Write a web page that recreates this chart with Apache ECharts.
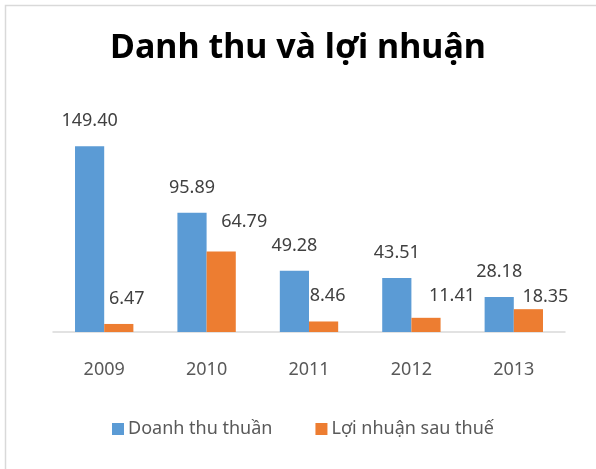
<!DOCTYPE html>
<html>
<head>
<meta charset="utf-8">
<script src="https://cdn.jsdelivr.net/npm/echarts@6/dist/echarts.min.js"></script>
<style>
html,body{margin:0;padding:0;background:#fff;}
#chart{width:596px;height:469px;}
</style>
</head>
<body>
<div id="chart"></div>
<script>
const titleText = 'Danh thu và lợi nhuận';
const years = ['2009', '2010', '2011', '2012', '2013'];
const seriesNames = ['Doanh thu thuần', 'Lợi nhuận sau thuế'];
const revenue = [149.40, 95.89, 49.28, 43.51, 28.18];
const profit = [6.47, 64.79, 8.46, 11.41, 18.35];

// label nudges (styling only) for the orange labels, as placed in the reference
const profitLabelNudge = [[8, 0], [23, -5], [4, -1], [26, 3], [17, 13]];

const FONT = '"Noto Sans", "Open Sans", sans-serif';

const chart = echarts.init(document.getElementById('chart'), null, {renderer: 'canvas'});
chart.setOption({
  animation: false,
  backgroundColor: '#ffffff',
  graphic: [{
    type: 'rect',
    shape: {x: 5.5, y: 5.5, width: 800, height: 800},
    style: {fill: 'none', stroke: '#d9d9d9', lineWidth: 1.5},
    silent: true, z: -1
  }],
  title: {
    text: titleText,
    left: 'center',
    top: 26,
    textStyle: {fontFamily: FONT, fontWeight: 'bold', fontSize: 34, color: '#000000'}
  },
  legend: {
    data: seriesNames,
    left: 107,
    top: 415,
    itemWidth: 12,
    itemHeight: 12,
    itemGap: 43,
    icon: 'rect',
    textStyle: {fontFamily: FONT, fontSize: 18, color: '#595959', padding: [0, 0, 0, -1]}
  },
  grid: {left: 53, right: 31, top: 133, bottom: 137, containLabel: false},
  xAxis: {
    type: 'category',
    data: years,
    axisLine: {lineStyle: {color: '#d9d9d9', width: 1.5}},
    axisTick: {show: false},
    axisLabel: {fontFamily: FONT, fontSize: 18, color: '#595959', margin: 29}
  },
  yAxis: {
    type: 'value',
    min: 0,
    max: 160,
    interval: 20,
    show: false,
    splitLine: {show: false}
  },
  series: [
    {
      name: seriesNames[0],
      type: 'bar',
      data: revenue,
      barGap: '0%',
      barCategoryGap: '43%',
      itemStyle: {color: '#5B9BD5'},
      label: {
        show: true, position: 'top', distance: 16,
        formatter: p => p.value.toFixed(2),
        fontFamily: FONT, fontSize: 18, color: '#404040'
      }
    },
    {
      name: seriesNames[1],
      type: 'bar',
      data: profit.map((v, i) => ({value: v, label: {offset: profitLabelNudge[i]}})),
      barGap: '0%',
      barCategoryGap: '43%',
      itemStyle: {color: '#ED7D31'},
      label: {
        show: true, position: 'top', distance: 16,
        formatter: p => p.value.toFixed(2),
        fontFamily: FONT, fontSize: 18, color: '#404040'
      }
    }
  ]
});
</script>
</body>
</html>
